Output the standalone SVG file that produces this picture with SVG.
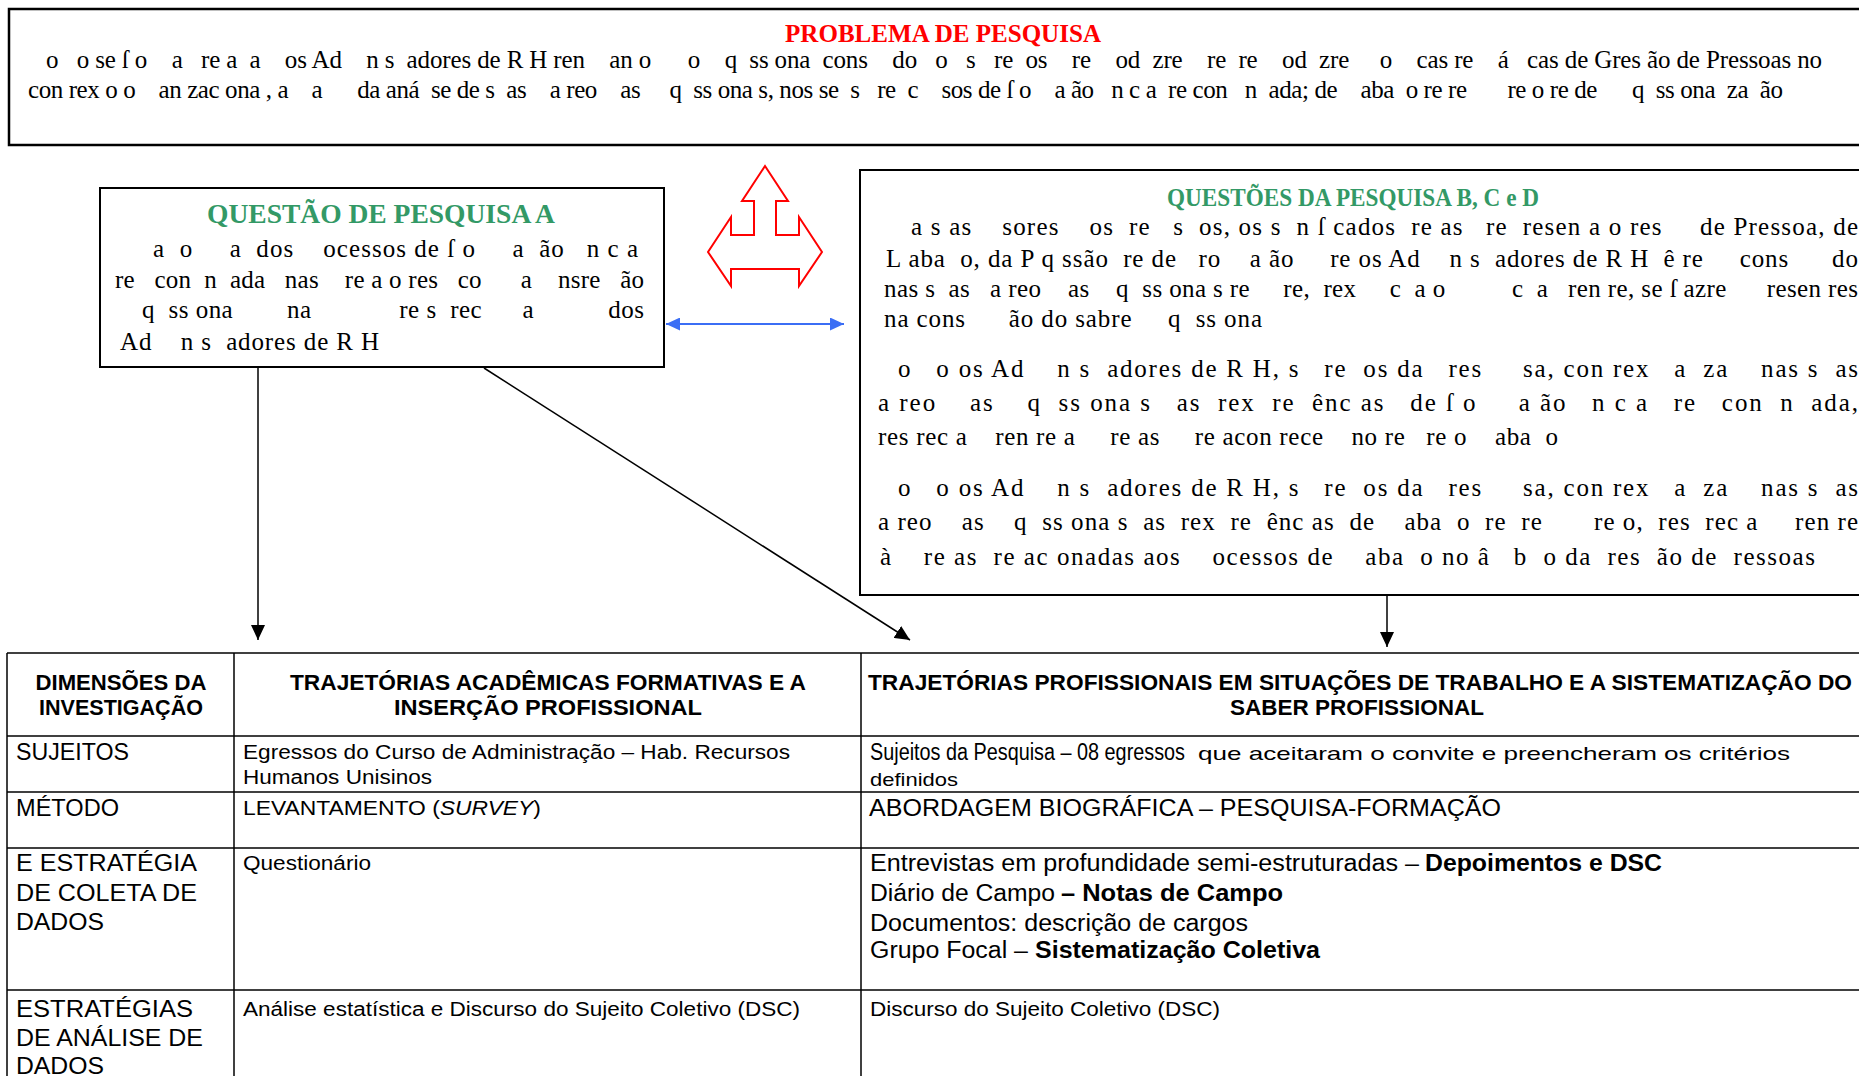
<svg xmlns="http://www.w3.org/2000/svg" width="1859" height="1076" viewBox="0 0 1859 1076">
<style>
.serif{font-family:"Liberation Serif","Times New Roman",serif}
.body{font-size:25px;white-space:pre;fill:#000}
.ttl{font-weight:bold;font-size:25px}
.red{fill:#FF0000}
.green{fill:#339966}
.sans{font-family:"Liberation Sans",Arial,sans-serif;fill:#000}
.th{font-weight:bold;font-size:22px}
.td{font-size:23px}
.td2{font-size:20px}
.b{font-weight:bold}
.box{fill:#fff;stroke:#000;stroke-width:2}
.grid{stroke:#000;stroke-width:1.5;fill:none}
.conn{stroke:#000;stroke-width:1.5;fill:none}
.blue{stroke:#3B6EF5;stroke-width:2;fill:none}
</style>
<defs>
<marker id="ah" markerUnits="userSpaceOnUse" markerWidth="15" markerHeight="14" refX="15" refY="7" orient="auto"><path d="M0,0 L15,7 L0,14 Z" fill="#000"/></marker>
<marker id="bh" markerUnits="userSpaceOnUse" markerWidth="14" markerHeight="13" refX="14" refY="6.5" orient="auto"><path d="M0,0 L14,6.5 L0,13 Z" fill="#3B6EF5"/></marker>
<marker id="bt" markerUnits="userSpaceOnUse" markerWidth="14" markerHeight="13" refX="0" refY="6.5" orient="auto"><path d="M14,0 L0,6.5 L14,13 Z" fill="#3B6EF5"/></marker>
</defs>
<rect width="1859" height="1076" fill="#fff"/>

<g id="problema">
<rect class="box" x="9" y="9" width="1870" height="136" style="stroke-width:2.5"/>
<text class="serif ttl red" x="943" y="42" text-anchor="middle" textLength="316" lengthAdjust="spacingAndGlyphs">PROBLEMA DE PESQUISA</text>
<text class="serif body" x="46" y="68" textLength="1776" lengthAdjust="spacing">o   o se ſ o    a   re a  a    os Ad    n s  adores de R H ren    an o      o    q  ss ona  cons    do   o   s   re  os    re    od  zre    re  re    od  zre     o    cas re    á   cas de Gres ão de Pressoas no</text>
<text class="serif body" x="28" y="98" textLength="1755" lengthAdjust="spacing">con rex o o    an zac ona , a    a      da aná  se de s  as    a reo    as     q  ss ona s, nos se  s   re  c    sos de ſ o    a ão   n c a  re con   n  ada; de    aba  o re re       re o re de      q  ss ona  za  ão</text>
</g>

<g id="questao-a">
<rect class="box" x="100" y="188" width="564" height="179"/>
<text class="serif ttl green" x="381" y="223" text-anchor="middle" style="font-size:27px" textLength="348" lengthAdjust="spacingAndGlyphs">QUESTÃO DE PESQUISA A</text>
<text class="serif body" x="153" y="257" textLength="485" lengthAdjust="spacing">a  o     a  dos    ocessos de ſ o     a  ão   n c a</text>
<text class="serif body" x="115" y="288" textLength="529" lengthAdjust="spacing">re   con  n  ada   nas    re a o res   co      a    nsre   ão</text>
<text class="serif body" x="142" y="318" textLength="502" lengthAdjust="spacing">q  ss ona        na             re s  rec      a           dos</text>
<text class="serif body" x="120" y="350" textLength="259" lengthAdjust="spacing">Ad    n s  adores de R H</text>
</g>

<g id="seta-vermelha">
<polygon points="765,166 788,201 776,201 776,235 799,235 799,217 822,252 799,286 799,269 731,269 731,286 708,252 731,217 731,235 754,235 754,201 742,201" fill="none" stroke="#FF0000" stroke-width="2"/>
</g>

<g id="questoes-bcd">
<rect class="box" x="860" y="170" width="1010" height="425"/>
<text class="serif ttl green" x="1353" y="206" text-anchor="middle" textLength="372" lengthAdjust="spacingAndGlyphs">QUESTÕES DA PESQUISA B, C e D</text>
<text class="serif body" x="911" y="235" textLength="947" lengthAdjust="spacing">a s as    sores    os  re   s  os, os s  n ſ cados  re as   re  resen a o res     de Pressoa, de</text>
<text class="serif body" x="886" y="267" textLength="972" lengthAdjust="spacing">L aba  o, da P q ssão  re de   ro    a ão     re os Ad    n s  adores de R H  ê re     cons      do</text>
<text class="serif body" x="884" y="297" textLength="974" lengthAdjust="spacing">nas s  as   a reo    as    q  ss ona s re     re,  rex     c  a o          c  a   ren re, se ſ azre      resen res</text>
<text class="serif body" x="884" y="327" textLength="378" lengthAdjust="spacing">na cons      ão do sabre     q  ss ona</text>
<text class="serif body" x="898" y="377" textLength="960" lengthAdjust="spacing">o   o os Ad    n s  adores de R H, s   re  os da   res     sa, con rex   a  za    nas s  as</text>
<text class="serif body" x="878" y="411" textLength="980" lengthAdjust="spacing">a reo    as    q  ss ona s   as  rex  re  ênc as   de ſ o     a ão   n c a   re   con  n  ada,</text>
<text class="serif body" x="878" y="445" textLength="680" lengthAdjust="spacing">res rec a    ren re a     re as     re acon rece    no re   re o    aba  o</text>
<text class="serif body" x="898" y="496" textLength="960" lengthAdjust="spacing">o   o os Ad    n s  adores de R H, s   re  os da   res     sa, con rex   a  za    nas s  as</text>
<text class="serif body" x="878" y="530" textLength="980" lengthAdjust="spacing">a reo    as    q  ss ona s  as  rex  re  ênc as  de    aba  o  re  re       re o,  res  rec a     ren re</text>
<text class="serif body" x="880" y="565" textLength="935" lengthAdjust="spacing">à    re as  re ac onadas aos    ocessos de    aba  o no â   b  o da  res  ão de  ressoas</text>
</g>

<g id="tabela">
<line class="grid" x1="7" y1="653" x2="1870" y2="653"/>
<line class="grid" x1="7" y1="736" x2="1870" y2="736"/>
<line class="grid" x1="7" y1="792" x2="1870" y2="792"/>
<line class="grid" x1="7" y1="848" x2="1870" y2="848"/>
<line class="grid" x1="7" y1="990" x2="1870" y2="990"/>
<line class="grid" x1="7" y1="653" x2="7" y2="1080"/>
<line class="grid" x1="234" y1="653" x2="234" y2="1080"/>
<line class="grid" x1="861" y1="653" x2="861" y2="1080"/>

<text class="sans th" x="121" y="690" text-anchor="middle" textLength="171" lengthAdjust="spacingAndGlyphs">DIMENSÕES DA</text>
<text class="sans th" x="121" y="715" text-anchor="middle" textLength="164" lengthAdjust="spacingAndGlyphs">INVESTIGAÇÃO</text>
<text class="sans th" x="548" y="690" text-anchor="middle" textLength="516" lengthAdjust="spacingAndGlyphs">TRAJETÓRIAS ACADÊMICAS FORMATIVAS E A</text>
<text class="sans th" x="548" y="715" text-anchor="middle" textLength="308" lengthAdjust="spacingAndGlyphs">INSERÇÃO PROFISSIONAL</text>
<text class="sans th" x="1360" y="690" text-anchor="middle" textLength="984" lengthAdjust="spacingAndGlyphs">TRAJETÓRIAS PROFISSIONAIS EM SITUAÇÕES DE TRABALHO E A SISTEMATIZAÇÃO DO</text>
<text class="sans th" x="1357" y="715" text-anchor="middle" textLength="254" lengthAdjust="spacingAndGlyphs">SABER PROFISSIONAL</text>

<text class="sans td" x="16" y="760" textLength="113" lengthAdjust="spacingAndGlyphs">SUJEITOS</text>
<text class="sans td2" x="243" y="759" textLength="547" lengthAdjust="spacingAndGlyphs">Egressos do Curso de Administração – Hab. Recursos</text>
<text class="sans td2" x="243" y="784" textLength="189" lengthAdjust="spacingAndGlyphs">Humanos Unisinos</text>
<text class="sans td" x="870" y="760" textLength="315" lengthAdjust="spacingAndGlyphs">Sujeitos da Pesquisa – 08 egressos</text>
<text class="sans" x="1198" y="760" style="font-size:19px" textLength="592" lengthAdjust="spacingAndGlyphs">que aceitaram o convite e preencheram os critérios</text>
<text class="sans" x="870" y="786" style="font-size:19px" textLength="88" lengthAdjust="spacingAndGlyphs">definidos</text>

<text class="sans td" x="16" y="816" textLength="103" lengthAdjust="spacingAndGlyphs">MÉTODO</text>
<text class="sans td2" x="243" y="815" textLength="298" lengthAdjust="spacingAndGlyphs">LEVANTAMENTO (<tspan font-style="italic">SURVEY</tspan>)</text>
<text class="sans td" x="869" y="816" textLength="632" lengthAdjust="spacingAndGlyphs">ABORDAGEM BIOGRÁFICA – PESQUISA-FORMAÇÃO</text>

<text class="sans td" x="16" y="871" textLength="181" lengthAdjust="spacingAndGlyphs">E ESTRATÉGIA</text>
<text class="sans td" x="16" y="901" textLength="181" lengthAdjust="spacingAndGlyphs">DE COLETA DE</text>
<text class="sans td" x="16" y="930" textLength="88" lengthAdjust="spacingAndGlyphs">DADOS</text>
<text class="sans td2" x="243" y="870" textLength="128" lengthAdjust="spacingAndGlyphs">Questionário</text>
<text class="sans td" x="870" y="871" textLength="549" lengthAdjust="spacingAndGlyphs">Entrevistas em profundidade semi-estruturadas –</text>
<text class="sans td b" x="1425" y="871" textLength="237" lengthAdjust="spacingAndGlyphs">Depoimentos e DSC</text>
<text class="sans td" x="870" y="901" textLength="185" lengthAdjust="spacingAndGlyphs">Diário de Campo</text>
<text class="sans td b" x="1061" y="901" textLength="222" lengthAdjust="spacingAndGlyphs">– Notas de Campo</text>
<text class="sans td" x="870" y="931" textLength="378" lengthAdjust="spacingAndGlyphs">Documentos: descrição de cargos</text>
<text class="sans td" x="870" y="958" textLength="158" lengthAdjust="spacingAndGlyphs">Grupo Focal –</text>
<text class="sans td b" x="1035" y="958" textLength="285" lengthAdjust="spacingAndGlyphs">Sistematização Coletiva</text>

<text class="sans td" x="16" y="1017" textLength="177" lengthAdjust="spacingAndGlyphs">ESTRATÉGIAS</text>
<text class="sans td" x="16" y="1046" textLength="187" lengthAdjust="spacingAndGlyphs">DE ANÁLISE DE</text>
<text class="sans td" x="16" y="1074" textLength="88" lengthAdjust="spacingAndGlyphs">DADOS</text>
<text class="sans td2" x="243" y="1016" textLength="557" lengthAdjust="spacingAndGlyphs">Análise estatística e Discurso do Sujeito Coletivo (DSC)</text>
<text class="sans td2" x="870" y="1016" textLength="350" lengthAdjust="spacingAndGlyphs">Discurso do Sujeito Coletivo (DSC)</text>
</g>

<g id="conectores">
<line class="blue" x1="666" y1="324" x2="844" y2="324" marker-start="url(#bt)" marker-end="url(#bh)"/>
<line class="conn" x1="258" y1="368" x2="258" y2="640" marker-end="url(#ah)"/>
<line class="conn" x1="484" y1="368" x2="910" y2="640" marker-end="url(#ah)"/>
<line class="conn" x1="1387" y1="596" x2="1387" y2="647" marker-end="url(#ah)"/>
</g>
</svg>
